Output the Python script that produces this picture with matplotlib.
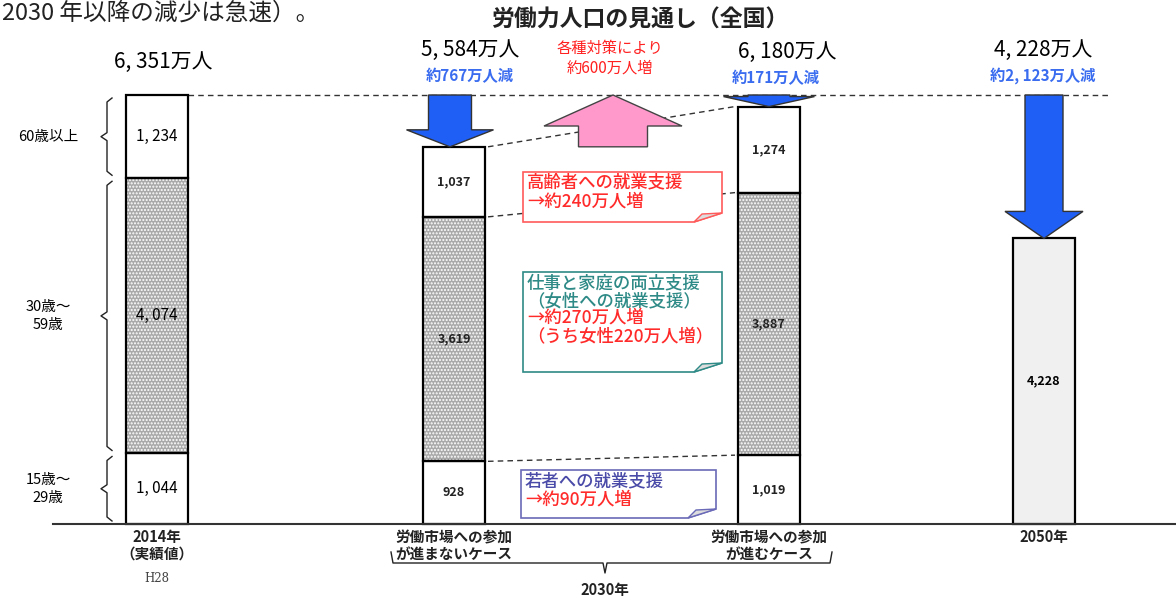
import matplotlib
matplotlib.use("Agg")
import matplotlib.pyplot as plt
from matplotlib.patches import Polygon

plt.rcParams['font.family'] = ['Noto Sans CJK JP', 'DejaVu Sans']

# data (万人)
cases = ['2014年\n（実績値）', '労働市場への参加\nが進まないケース', '労働市場への参加\nが進むケース', '2050年']
age_groups = ['15歳～\n29歳', '30歳～\n59歳', '60歳以上']
age_15_29 = [1044, 928, 1019]
age_30_59 = [4074, 3619, 3887]
age_60_up = [1234, 1037, 1274]
totals = [6351, 5584, 6180, 4228]

W, H = 1176, 601
xpos = [157, 454, 769, 1044]
bw = 62
base_px, top_px = 524, 95
scale = (base_px - top_px) / totals[0]   # pixels per 万人

fig = plt.figure(figsize=(W / 100, H / 100), dpi=100)
ax = fig.add_axes([0, 0, 1, 1])
ax.set_xlim(0, W)
ax.set_ylim(-(H - base_px) / scale, base_px / scale)
ax.axis('off')

ov = fig.add_axes([0, 0, 1, 1])
ov.set_xlim(0, W)
ov.set_ylim(H, 0)
ov.axis('off')
ov.patch.set_alpha(0)

# stacked bars
bottoms = [0, 0, 0]
for seg, face, hatch in [(age_15_29, 'white', None), (age_30_59, '#a9a9a9', '.....'), (age_60_up, 'white', None)]:
    xs = xpos[:3]
    if hatch:
        ax.bar(xs, seg, bw, bottom=bottoms, color=face, hatch=hatch, edgecolor='white', linewidth=0, zorder=2)
    ax.bar(xs, seg, bw, bottom=bottoms, fill=False, edgecolor='black', linewidth=1.6, zorder=3)
    for i in range(3):
        if i == 0:
            lab = f"{seg[i]:,}".replace(',', ', ')
            ax.text(xs[i], bottoms[i] + seg[i] / 2, lab, ha='center', va='center', fontsize=11, zorder=4)
        else:
            ax.text(xs[i], bottoms[i] + seg[i] / 2, f"{seg[i]:,}", ha='center', va='center',
                    fontsize=9, fontweight='bold', color='#222222', zorder=4)
    bottoms = [b + s for b, s in zip(bottoms, seg)]

ax.bar(xpos[3], totals[3], bw, color='#f0f0f0', edgecolor='black', linewidth=1.6, zorder=3)
ax.text(xpos[3], totals[3] / 2, f"{totals[3]:,}", ha='center', va='center', fontsize=9, fontweight='bold', zorder=4)

# baseline
ax.plot([53, W], [0, 0], color='#333333', lw=1.5, zorder=3)

# dashed reference and connectors
ax.plot([xpos[0] + bw / 2, 1110], [totals[0], totals[0]], ls=(0, (4, 3)), color='#333333', lw=1, zorder=1)
lv2 = [age_15_29[1], age_15_29[1] + age_30_59[1], totals[1]]
lv3 = [age_15_29[2], age_15_29[2] + age_30_59[2], totals[2]]
for a, b in zip(lv2, lv3):
    ax.plot([xpos[1] + bw / 2 + 3, xpos[2] - bw / 2 - 3], [a, b], ls=(0, (4, 3)), color='#333333', lw=1, zorder=1)

# braces for age groups (bar 1)
cum = [0, age_15_29[0], age_15_29[0] + age_30_59[0], totals[0]]
d = 4 / scale
g = 3 / scale
for k in range(3):
    y0, y1 = cum[k] + g, cum[k + 1] - g
    m = (y0 + y1) / 2
    ax.plot([112, 107, 107, 101, 107, 107, 112], [y1, y1 - d, m + d, m, m - d, y0 + d, y0],
            color='#222222', lw=1, zorder=2)
    ax.text(48, m, age_groups[k], ha='center', va='center', fontsize=10.5, linespacing=1.4)

# arrows
def down_arrow(xc, ytop, ytip, sw, hw, hl_px, color):
    hl = min(hl_px / scale, ytop - ytip)
    pts = [(xc - sw / 2, ytop), (xc + sw / 2, ytop), (xc + sw / 2, ytip + hl), (xc + hw / 2, ytip + hl),
           (xc, ytip), (xc - hw / 2, ytip + hl), (xc - sw / 2, ytip + hl)]
    ax.add_patch(Polygon(pts, closed=True, fc=color, ec='#333333', lw=1, zorder=5))

blue = '#1f5ff5'
down_arrow(450, totals[0], totals[1], 43, 87, 17, blue)
down_arrow(769, totals[0], totals[2], 42, 91, 10, blue)
down_arrow(1044, totals[0], totals[3], 38, 78, 27, blue)

xc, sw, hw, hl = 613, 69, 138, 31 / scale
pts = [(xc - sw / 2, totals[1]), (xc + sw / 2, totals[1]), (xc + sw / 2, totals[0] - hl), (xc + hw / 2, totals[0] - hl),
       (xc, totals[0]), (xc - hw / 2, totals[0] - hl), (xc - sw / 2, totals[0] - hl)]
ax.add_patch(Polygon(pts, closed=True, fc='#ff99cc', ec='#444444', lw=1, zorder=5))

# totals and decreases
tot_y = [62, 50, 52, 50]
tot_x = [163, 470, 787, 1043]
for i in range(4):
    ov.text(tot_x[i], tot_y[i], f"{totals[i]:,}".replace(',', ', ') + '万人', ha='center', va='center', fontsize=15)
for i, (x, y) in zip([1, 2, 3], [(470, 76), (776, 78), (1043, 76)]):
    diff = totals[0] - totals[i]
    ov.text(x, y, '約' + f"{diff:,}".replace(',', ', ') + '万人減', ha='center', va='center',
            fontsize=11, fontweight='bold', color='#3a6cf0')

ov.text(610, 58, '各種対策により\n約600万人増', ha='center', va='center', fontsize=11,
        color='#ff2020', linespacing=1.2)

# title and header text
ov.text(640, 20, '労働力人口の見通し（全国）', ha='center', va='center', fontsize=16.5, fontweight='bold', color='#222222')
ov.text(2, 13, '2030 年以降の減少は急速）。', ha='left', va='center', fontsize=17, color='#222222')

# callout boxes
def callout(x0, y0, x1, y1, ec, lines, fold=28):
    pts = [(x0, y0), (x1, y0), (x1, y1 - 9), (x1 - fold, y1), (x0, y1)]
    ov.add_patch(Polygon(pts, closed=True, fc='white', ec=ec, lw=1.2, zorder=6))
    ov.add_patch(Polygon([(x1 - fold, y1), (x1 - fold + 8, y1 - 8), (x1, y1 - 9)], closed=True,
                         fc='#dddddd', ec=ec, lw=1, zorder=7))
    for (t, c, yy) in lines:
        ov.text(x0 + 4, yy, t, ha='left', va='center', fontsize=12.5, color=c, fontweight='medium', zorder=8)

red = '#ff2a2a'
teal = '#2e8a86'
navy = '#4a4aa8'
callout(523, 172, 722, 222, '#ff5a5a', [('高齢者への就業支援', red, 182), ('→約240万人増', red, 201)])
callout(523, 272, 722, 372, teal, [('仕事と家庭の両立支援', teal, 283), ('（女性への就業支援）', teal, 301),
                                   ('→約270万人増', red, 318), ('（うち女性220万人増）', red, 336)])
callout(521, 470, 716, 518, '#6a6ab8', [('若者への就業支援', navy, 481), ('→約90万人増', red, 500)])

# x labels, one line at a time
line_y = [537, 554]
for i in range(4):
    for j, t in enumerate(cases[i].split('\n')):
        ov.text(xpos[i], line_y[j], t, ha='center', va='center', fontsize=10.5,
                fontweight='bold', color='#222222')
ov.text(157, 579, 'H28', ha='center', va='center', fontsize=8.5, family='DejaVu Serif', color='#444444')

# 2030 bracket
ov.plot([391, 393, 603, 605, 607, 830, 832], [552, 563, 563, 573, 563, 563, 552], color='#222222', lw=1)
ov.text(605, 590, '2030年', ha='center', va='center', fontsize=10.5, fontweight='bold', color='#222222')

fig.savefig('out.png', dpi=100)
